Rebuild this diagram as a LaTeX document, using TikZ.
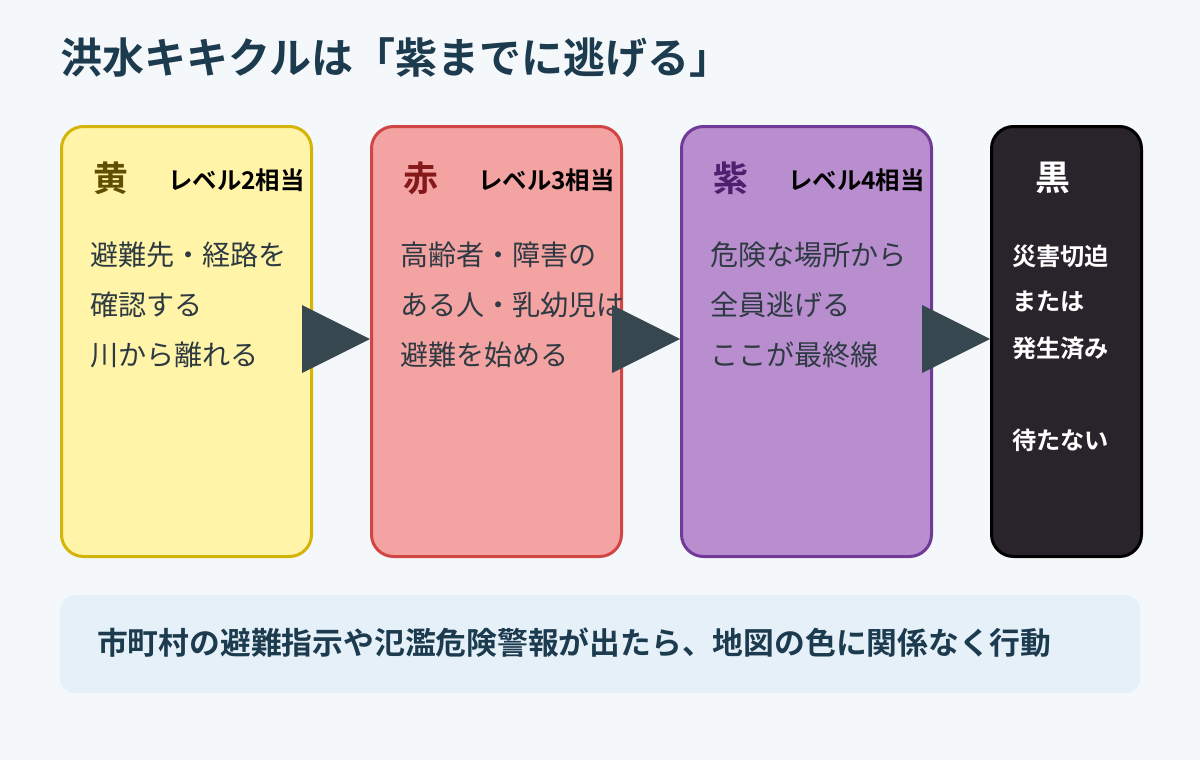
\documentclass[tikz,border=0pt]{standalone}
\usepackage{fontspec}
\setmainfont{Noto Sans CJK JP}
\newfontfamily\jpb{Noto Sans CJK JP Bold}
\usetikzlibrary{positioning}
\definecolor{bgc}{HTML}{F5F8FA}
\definecolor{titlec}{HTML}{1D3B4F}
\definecolor{yelf}{HTML}{FFF4A8}
\definecolor{yeld}{HTML}{D4B406}
\definecolor{yelt}{HTML}{5E5000}
\definecolor{redf}{HTML}{F4A3A3}
\definecolor{redd}{HTML}{D14545}
\definecolor{redt}{HTML}{851818}
\definecolor{purf}{HTML}{B98ECF}
\definecolor{purd}{HTML}{6F3A98}
\definecolor{purt}{HTML}{4E1F6E}
\definecolor{blkf}{HTML}{29232B}
\definecolor{arrc}{HTML}{37474F}
\definecolor{bodyc}{HTML}{2E3A42}
\definecolor{notef}{HTML}{E5F0F8}
\tikzset{
  card/.style={rounded corners=22bp, line width=3bp, minimum width=250bp, minimum height=430bp, anchor=north west, inner sep=0pt},
  head/.style={anchor=center, inner sep=0pt, font=\jpb\fontsize{35}{38}\selectfont},
  lvl/.style={anchor=west, inner sep=0pt, font=\jpb\fontsize{24.5}{28}\selectfont, text=black},
  body/.style={anchor=west, inner sep=0pt, font=\fontsize{28.2}{32}\selectfont, text=bodyc},
  wbody/.style={anchor=west, inner sep=0pt, font=\jpb\fontsize{24.3}{28}\selectfont, text=white},
  tri/.style={fill=arrc, draw=none}
}
\begin{document}
\begin{tikzpicture}[x=1bp,y=-1bp]
\fill[bgc] (0,0) rectangle (1200,760);
\useasboundingbox (0,0) rectangle (1200,760);
\node[anchor=west, inner sep=0pt, font=\jpb\fontsize{42.2}{46}\selectfont, text=titlec] (title) at (60,58) {洪水キキクルは「紫までに逃げる」};
% cards
\node[card, draw=yeld, fill=yelf] (c1) at (60,125) {};
\node[card, draw=redd, fill=redf] (c2) at (370,125) {};
\node[card, draw=purd, fill=purf] (c3) at (680,125) {};
\node[card, draw=black, fill=blkf, minimum width=150bp] (c4) at (990,125) {};
% headings
\node[head, text=yelt] (h1) at (111,178) {黄};
\node[lvl] (l1) at (168,180) {レベル2相当};
\node[head, text=redt] (h2) at (421,178) {赤};
\node[lvl] (l2) at (478,180) {レベル3相当};
\node[head, text=purt] (h3) at (731,178) {紫};
\node[lvl] (l3) at (788,180) {レベル4相当};
\node[head, text=white] (h4) at (1053,178) {黒};
% bodies
\node[body] (b11) at (90,255) {避難先・経路を};
\node[body] (b12) at (90,305) {確認する};
\node[body] (b13) at (90,355) {川から離れる};
\node[body] (b21) at (400,255) {高齢者・障害の};
\node[body] (b22) at (400,305) {ある人・乳幼児は};
\node[body] (b23) at (400,355) {避難を始める};
\node[body] (b31) at (710,255) {危険な場所から};
\node[body] (b32) at (710,305) {全員逃げる};
\node[body] (b33) at (710,355) {ここが最終線};
\node[wbody] (b41) at (1012,256) {災害切迫};
\node[wbody] (b42) at (1012,301) {または};
\node[wbody] (b43) at (1012,348) {発生済み};
\node[wbody] (b44) at (1012,440) {待たない};
% arrows
\coordinate (a1) at (302,305);
\coordinate (a2) at (612,305);
\coordinate (a3) at (922,305);
\fill[tri] (a1) -- ++(0,68) -- ++(68,-34) -- cycle;
\fill[tri] (a2) -- ++(0,68) -- ++(68,-34) -- cycle;
\fill[tri] (a3) -- ++(0,68) -- ++(68,-34) -- cycle;
% note
\node[anchor=north west, fill=notef, rounded corners=15bp, minimum width=1080bp, minimum height=98bp, inner sep=0pt] (note) at (60,595) {};
\node[anchor=west, inner sep=0pt, font=\jpb\fontsize{30.9}{34}\selectfont, text=titlec] (notet) at (97,643) {市町村の避難指示や氾濫危険警報が出たら、地図の色に関係なく行動};
\end{tikzpicture}
\end{document}
